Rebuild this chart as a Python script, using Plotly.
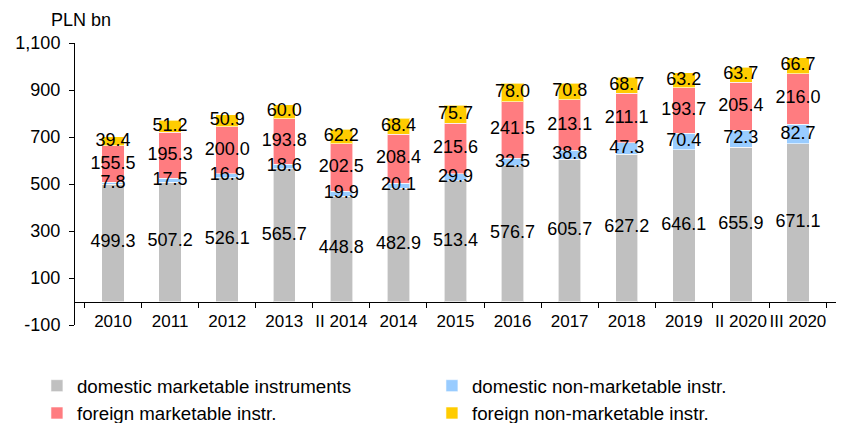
import plotly.graph_objects as go

categories = ["2010", "2011", "2012", "2013", "II 2014", "2014", "2015", "2016",
              "2017", "2018", "2019", "II 2020", "III 2020"]
domestic_marketable = [499.3, 507.2, 526.1, 565.7, 448.8, 482.9, 513.4, 576.7,
                       605.7, 627.2, 646.1, 655.9, 671.1]
domestic_nonmarketable = [7.8, 17.5, 16.9, 18.6, 19.9, 20.1, 29.9, 32.5,
                          38.8, 47.3, 70.4, 72.3, 82.7]
foreign_marketable = [155.5, 195.3, 200.0, 193.8, 202.5, 208.4, 215.6, 241.5,
                      213.1, 211.1, 193.7, 205.4, 216.0]
foreign_nonmarketable = [39.4, 51.2, 50.9, 60.0, 62.2, 68.4, 75.7, 78.0,
                         70.8, 68.7, 63.2, 63.7, 66.7]
y_tick_values = [-100, 100, 300, 500, 700, 900, 1100]
y_tick_labels = ["-100", "100", "300", "500", "700", "900", "1,100"]

series = [
    ("domestic marketable instruments", domestic_marketable, "#C0C0C0"),
    ("domestic non-marketable instr.", domestic_nonmarketable, "#99CCFF"),
    ("foreign marketable instr.", foreign_marketable, "#FF7C80"),
    ("foreign non-marketable instr.", foreign_nonmarketable, "#FFCC00"),
]

FONT = "Arial, 'Liberation Sans', sans-serif"

fig = go.Figure()
for name, vals, color in series:
    fig.add_trace(go.Bar(
        x=categories, y=vals, name=name,
        marker=dict(color=color, line=dict(color="rgba(255,255,255,0.6)", width=1)),
        hoverinfo="x+y+name",
    ))

# value labels drawn on top of every bar, centred in each stacked segment
base = [0.0] * len(categories)
for name, vals, color in series:
    mids = [b + v / 2 for b, v in zip(base, vals)]
    fig.add_trace(go.Scatter(
        x=categories, y=mids, mode="text",
        text=[f"{v:.1f}" for v in vals],
        textposition="middle center",
        textfont=dict(family=FONT, size=18, color="#000000"),
        showlegend=False, hoverinfo="skip", cliponaxis=False,
    ))
    base = [b + v for b, v in zip(base, vals)]

# the page body adds an 8px offset, so the figure is 8px smaller on each axis
fig.update_layout(
    barmode="stack",
    bargap=0.607,
    width=843, height=415,
    margin=dict(l=67, r=15, t=35, b=98, autoexpand=False),
    plot_bgcolor="white", paper_bgcolor="white",
    font=dict(family=FONT, size=18, color="#000000"),
    showlegend=True,
    legend=dict(
        orientation="h",
        x=-0.05, xanchor="left",
        y=-0.149, yanchor="top",
        entrywidth=350,
        font=dict(family=FONT, size=18.7, color="#000000"),
        traceorder="normal",
    ),
    xaxis=dict(
        type="category",
        anchor="free", position=100 / 1200,
        automargin=False,
        showline=True, linecolor="#000000", linewidth=1,
        ticks="outside", tickson="boundaries", ticklen=5, tickcolor="#000000",
        tickangle=0,
        ticklabelstandoff=4,
        tickfont=dict(family=FONT, size=17, color="#000000"),
        showgrid=False, zeroline=False,
    ),
    yaxis=dict(
        range=[-100, 1100],
        automargin=False,
        tickmode="array", tickvals=y_tick_values, ticktext=y_tick_labels,
        showline=True, linecolor="#000000", linewidth=1,
        ticks="outside", ticklen=5, tickcolor="#000000",
        ticklabelstandoff=5,
        tickfont=dict(family=FONT, size=18, color="#000000"),
        showgrid=False, zeroline=False,
    ),
    annotations=[dict(
        text="PLN bn", xref="paper", yref="paper",
        x=-26 / 761, y=1, xanchor="left", yanchor="bottom", yshift=11,
        showarrow=False, font=dict(family=FONT, size=18, color="#000000"),
    )],
)

fig.write_html("out.html")
